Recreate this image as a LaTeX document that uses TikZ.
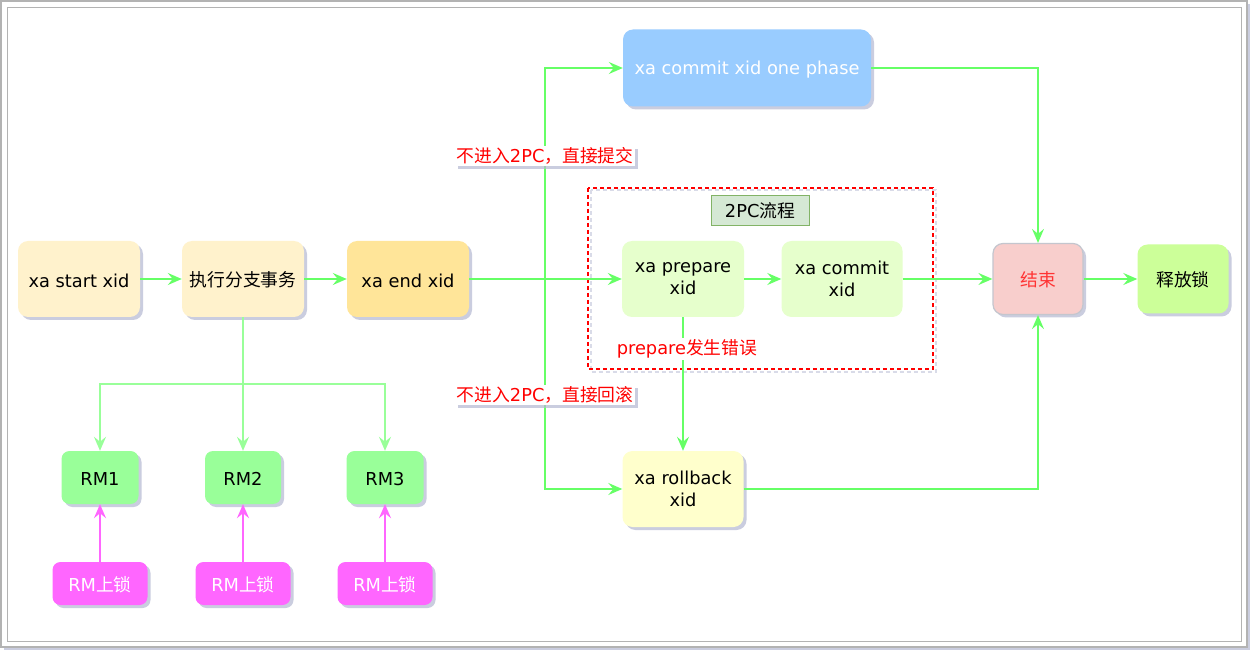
\documentclass[tikz,border=0pt]{standalone}
\usepackage{fontspec}
\setmainfont{DejaVu Sans}
\newfontfamily\cjk{Noto Sans CJK SC}
\usetikzlibrary{shadows,arrows.meta}

\definecolor{framegray}{HTML}{B3B3B3}
\definecolor{shadowc}{HTML}{B4B8D2}
\definecolor{flowgreen}{HTML}{66FF66}
\definecolor{rmgreen}{HTML}{99FF99}
\definecolor{lockpink}{HTML}{FF66FF}
\definecolor{paleyellow}{HTML}{FFF2CC}
\definecolor{goldyellow}{HTML}{FFE599}
\definecolor{skyblue}{HTML}{99CCFF}
\definecolor{palegreen}{HTML}{E6FFCC}
\definecolor{palered}{HTML}{F8CECC}
\definecolor{limegreen}{HTML}{CCFF99}
\definecolor{creamyellow}{HTML}{FFFFCC}
\definecolor{tagfill}{HTML}{D5E8D4}
\definecolor{tagdraw}{HTML}{82B366}
\definecolor{finishred}{HTML}{FF3333}
\definecolor{finishdraw}{HTML}{C4C6CE}

\tikzset{
  txt/.style={font=\fontsize{17.8}{22}\selectfont},
  box/.style={txt, rounded corners=10pt, minimum width=122pt, minimum height=76pt,
    inner sep=0pt, align=center, execute at begin node={\rule{0pt}{16.5pt}}},
  twoline/.style={box, execute at begin node={\rule{0pt}{21pt}}},
  shade/.style={drop shadow={shadow xshift=3pt, shadow yshift=-3pt, fill=shadowc, opacity=0.7}},
  rmbox/.style={box, rounded corners=8pt, minimum width=77pt, minimum height=53pt, fill=rmgreen, shade},
  lockbox/.style={box, rounded corners=8pt, minimum width=95pt, minimum height=43pt, fill=lockpink, text=white, shade},
  lbl/.style={txt, fill=white, text=red, inner sep=1.5pt},
  tip/.style={-{Stealth[length=14pt, width=12pt, inset=5pt]}},
  flow/.style={draw=flowgreen, line width=1.6pt, tip},
  rmflow/.style={draw=rmgreen, line width=1.6pt, tip},
  lockflow/.style={draw=lockpink, line width=1.6pt, tip}
}

\begin{document}
\begin{tikzpicture}[x=1pt, y=-1pt]
\useasboundingbox (0,0) rectangle (1254,655);

% outer frame
\draw[framegray, line width=1.5pt, fill=white, shade] (1,1) rectangle (1247,647);
\draw[framegray, line width=1pt] (7.5,7.5) rectangle (1241,641);

% 2PC frame
\draw[shadowc, opacity=0.5, line width=2pt, dash pattern=on 4pt off 3pt] (590.5,190.5) rectangle (935.5,371.5); % frame shadow
\draw[red, line width=1.5pt, dash pattern=on 4pt off 3pt] (588,188) rectangle (933,369); % frame
\node[txt, fill=tagfill, draw=tagdraw, line width=1pt, minimum width=98pt, minimum height=30pt, inner sep=0pt] (tpc) at (760,211) {2PC{\cjk 流程}};

% main row
\node[box, fill=paleyellow, shade] (start) at (79,279) {xa start xid};
\node[box, fill=paleyellow, shade] (exec) at (243,279) {{\cjk 执行分支事务}};
\node[box, fill=goldyellow, shade] (end) at (408,279) {xa end xid};
\node[box, fill=skyblue, text=white, minimum width=248pt, minimum height=77pt, shade] (onephase) at (747,68) {xa commit xid one phase};
\node[twoline, fill=palegreen] (prep) at (683,279) {xa prepare\\xid};
\node[twoline, fill=palegreen, minimum width=121pt] (commit) at (842,279) {xa commit\\xid};
\node[box, fill=palered, draw=finishdraw, line width=1.2pt, text=finishred, minimum width=90pt, minimum height=71pt, shade] (finish) at (1038,279) {{\cjk 结束}};
\node[box, fill=limegreen, minimum width=91pt, minimum height=69pt, shade] (release) at (1183,279) {{\cjk 释放锁}};
\node[twoline, fill=creamyellow, minimum width=121pt, shade] (rollback) at (683,489) {xa rollback\\xid};

% resource managers
\node[rmbox] (rm1) at (100,477.5) {RM1};
\node[rmbox, minimum width=76pt] (rm2) at (243,477.5) {RM2};
\node[rmbox] (rm3) at (385,477.5) {RM3};
\node[lockbox] (lock1) at (100,583.5) {RM{\cjk 上锁}};
\node[lockbox] (lock2) at (243,583.5) {RM{\cjk 上锁}};
\node[lockbox] (lock3) at (385,583.5) {RM{\cjk 上锁}};

\coordinate (split) at (545,279);
\coordinate (rmsplit) at (243,384);

% connectors
\draw[flow] (start) -- (exec);
\draw[flow] (exec) -- (end);
\draw[flow] (end) -- (prep);
\draw[flow] (split) |- (onephase);
\draw[flow] (split) |- (rollback);
\draw[flow] (prep) -- (commit);
\draw[flow] (commit) -- (finish);
\draw[flow] (finish) -- (release);
\draw[flow] (onephase) -| (finish);
\draw[flow] (rollback) -| (finish);
\draw[flow] (prep) -- (rollback);

\draw[rmflow] (exec) -- (rm2);
\draw[rmflow] (rmsplit) -| (rm1);
\draw[rmflow] (rmsplit) -| (rm3);

\draw[lockflow] (lock1) -- (rm1);
\draw[lockflow] (lock2) -- (rm2);
\draw[lockflow] (lock3) -- (rm3);

% edge labels
\node[lbl, shade] (skipcommit) at (545,156) {{\cjk 不进入}2PC{\cjk ，直接提交}};
\node[lbl, shade] (skiproll) at (545,395) {{\cjk 不进入}2PC{\cjk ，直接回滚}};
\node[lbl] (preperr) at (687,349) {prepare{\cjk 发生错误}};

\end{tikzpicture}
\end{document}
